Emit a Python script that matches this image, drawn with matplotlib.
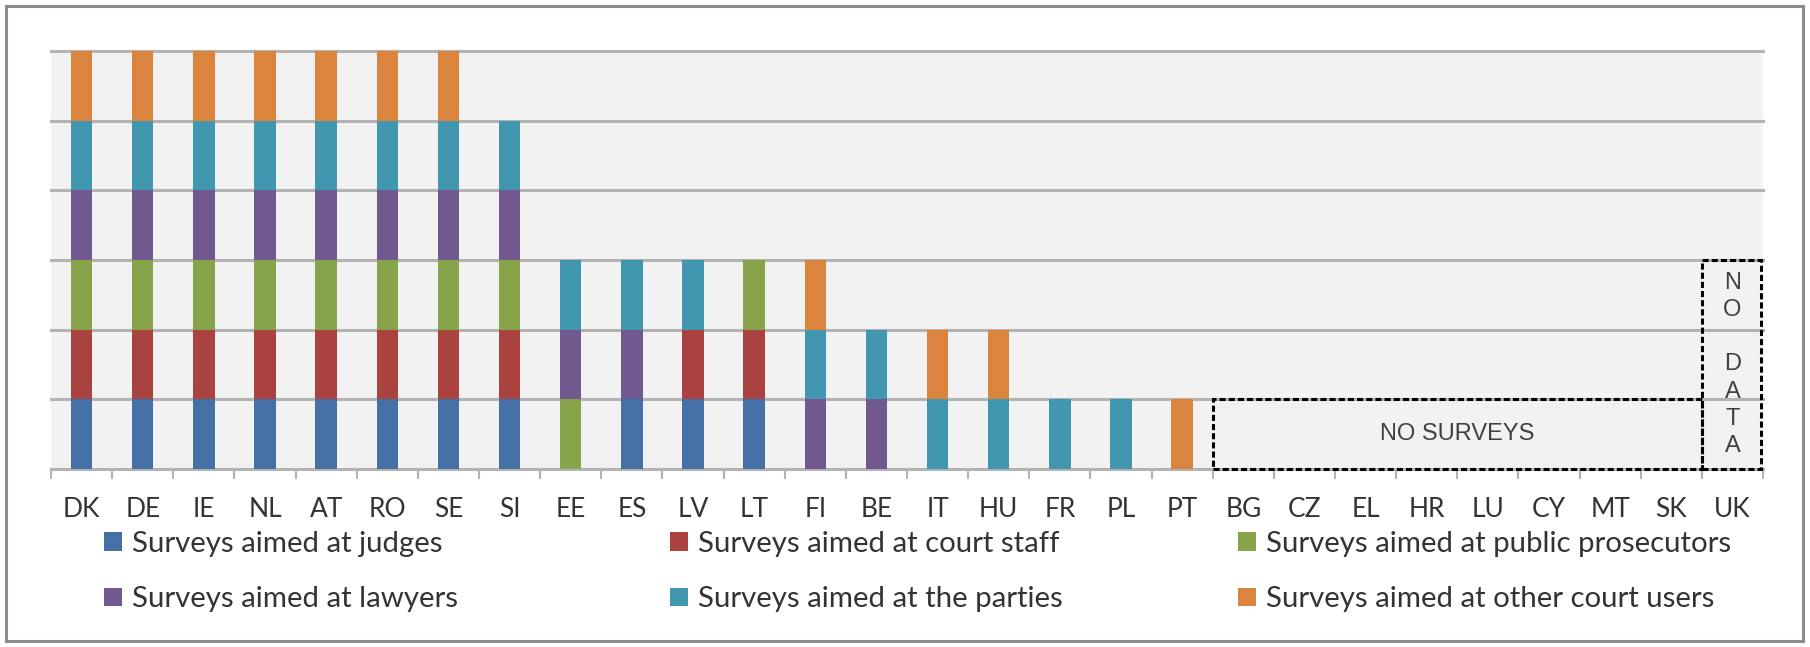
import numpy as np
import matplotlib
matplotlib.use('Agg')
import matplotlib.pyplot as plt
from matplotlib.patches import Rectangle

# data: 1 = member state runs that type of survey
countries = ['DK', 'DE', 'IE', 'NL', 'AT', 'RO', 'SE', 'SI', 'EE', 'ES', 'LV', 'LT', 'FI', 'BE',
             'IT', 'HU', 'FR', 'PL', 'PT', 'BG', 'CZ', 'EL', 'HR', 'LU', 'CY', 'MT', 'SK', 'UK']
judges      = [1, 1, 1, 1, 1, 1, 1, 1, 0, 1, 1, 1, 0, 0, 0, 0, 0, 0, 0, 0, 0, 0, 0, 0, 0, 0, 0, 0]
court_staff = [1, 1, 1, 1, 1, 1, 1, 1, 0, 0, 1, 1, 0, 0, 0, 0, 0, 0, 0, 0, 0, 0, 0, 0, 0, 0, 0, 0]
prosecutors = [1, 1, 1, 1, 1, 1, 1, 1, 1, 0, 0, 1, 0, 0, 0, 0, 0, 0, 0, 0, 0, 0, 0, 0, 0, 0, 0, 0]
lawyers     = [1, 1, 1, 1, 1, 1, 1, 1, 1, 1, 0, 0, 1, 1, 0, 0, 0, 0, 0, 0, 0, 0, 0, 0, 0, 0, 0, 0]
parties     = [1, 1, 1, 1, 1, 1, 1, 1, 1, 1, 1, 0, 1, 1, 1, 1, 1, 1, 0, 0, 0, 0, 0, 0, 0, 0, 0, 0]
other_users = [1, 1, 1, 1, 1, 1, 1, 0, 0, 0, 0, 0, 1, 0, 1, 1, 0, 0, 1, 0, 0, 0, 0, 0, 0, 0, 0, 0]

labels = ['Surveys aimed at judges', 'Surveys aimed at court staff',
          'Surveys aimed at public prosecutors', 'Surveys aimed at lawyers',
          'Surveys aimed at the parties', 'Surveys aimed at other court users']
colors = ['#4470a6', '#aa4240', '#87a44a', '#71588f', '#4197b0', '#db843d']
series = [judges, court_staff, prosecutors, lawyers, parties, other_users]

W, H = 1810, 647
fig = plt.figure(figsize=(W / 100, H / 100), dpi=100)
ax = fig.add_axes([51 / W, 1 - 469 / H, (1763 - 51) / W, (469 - 51) / H])
ax.set_facecolor('#f2f2f2')

x = np.arange(len(countries))
bottom = np.zeros(len(countries))
bars = []
for vals, col, lab in zip(series, colors, labels):
    b = ax.bar(x, vals, 0.35, bottom=bottom, color=col, label=lab, zorder=3)
    bars.append(b)
    bottom += np.array(vals)

ax.set_xlim(-0.5, 27.5)
ax.set_ylim(0, 6)
ax.set_yticks(range(7))
ax.yaxis.grid(True, color='#b3b3b3', lw=2.2, zorder=1)
for gl in ax.get_ygridlines():
    gl.set_clip_on(False)
ax.set_axisbelow(True)
ax.tick_params(axis='y', length=0, labelleft=False)

for s in ['top', 'right', 'left']:
    ax.spines[s].set_visible(False)
ax.spines['bottom'].set_color('#b3b3b3')
ax.spines['bottom'].set_linewidth(2)

ax.set_xticks(x)
ax.set_xticklabels(countries, fontsize=19, family='Lato', color='#333333')
ax.set_xticks(np.arange(-0.5, 28, 1), minor=True)
ax.tick_params(axis='x', which='major', length=0, pad=20)
ax.tick_params(axis='x', which='minor', length=7, width=1.5, color='#b3b3b3')

# no surveys / no data boxes
ax.add_patch(Rectangle((18.5, 0), 8, 1, fill=False, ec='black', lw=2.2,
                       ls=(0, (2, 1)), zorder=4, clip_on=False))
ax.add_patch(Rectangle((26.5, 0), 0.97, 3, fill=False, ec='black', lw=2.2,
                       ls=(0, (2, 1)), zorder=4, clip_on=False))
ax.text(22.5, 0.5, 'NO SURVEYS', ha='center', va='center', fontsize=17,
        family='Liberation Sans', color='#404040', zorder=5)
ax.text(27, 1.5, 'N\nO\n\nD\nA\nT\nA', ha='center', va='center', fontsize=17,
        family='Liberation Sans', color='#404040', linespacing=1.3, zorder=5)

# legend: Excel style, three equal-width columns
col_left = [104, 670, 1238]
for c in range(3):
    idx = [c, c + 3]
    fig.legend([bars[i] for i in idx], [labels[i] for i in idx], ncol=1,
               loc='upper left', bbox_to_anchor=(col_left[c] / W, 1 - 531 / H),
               frameon=False, prop={'family': 'Lato', 'size': 21.2},
               handlelength=0.6, handleheight=0.6, handletextpad=0.35,
               labelspacing=1.0, borderpad=0, borderaxespad=0,
               labelcolor='#333333')

# outer chart frame
fig.patches.append(Rectangle((6 / W, 6 / H), (1803 - 6) / W, (641 - 6) / H,
                             transform=fig.transFigure, fill=False,
                             ec='#8c8c8c', lw=2.2))

fig.savefig('out.png', dpi=100)
